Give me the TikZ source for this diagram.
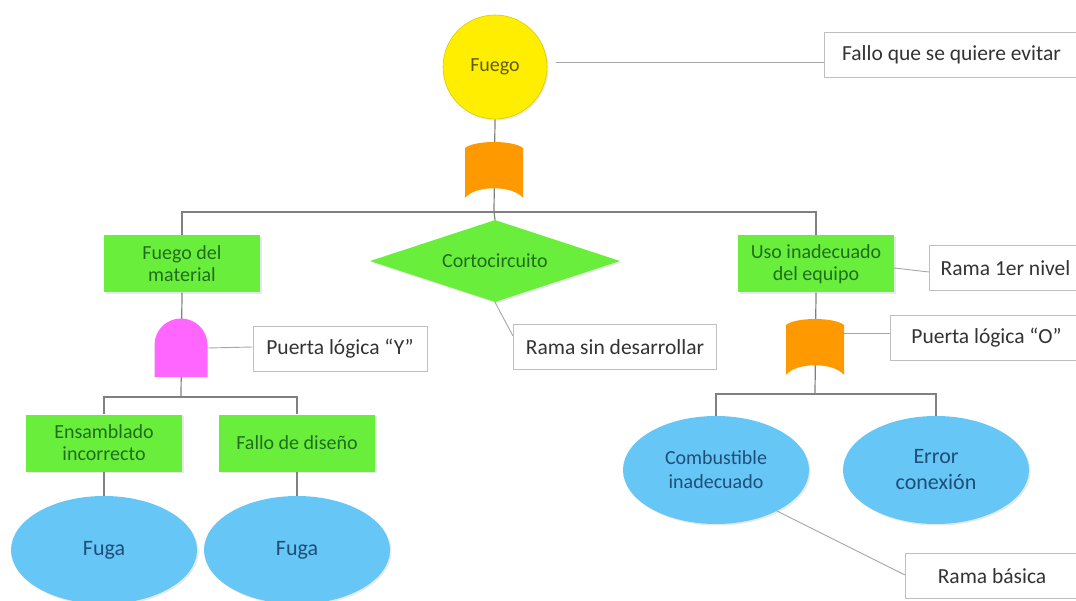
\documentclass[tikz,border=0pt]{standalone}
\usepackage{fontspec}
\setmainfont{Carlito}
\usetikzlibrary{shapes.geometric,backgrounds,shadows}
\definecolor{lineg}{HTML}{808080}
\definecolor{callg}{HTML}{A6A6A6}
\definecolor{boxg}{HTML}{BFBFBF}
\definecolor{grn}{HTML}{6AEE3C}
\definecolor{grntxt}{HTML}{1F6E1F}
\definecolor{blu}{HTML}{66C6F6}
\definecolor{blutxt}{HTML}{1F4E79}
\definecolor{yel}{HTML}{FFEE00}
\definecolor{yeltxt}{HTML}{5E5E10}
\definecolor{org}{HTML}{FF9900}
\definecolor{pnk}{HTML}{FF66FF}
\definecolor{lbltxt}{HTML}{333333}
\tikzset{
  sh/.style={drop shadow={opacity=0.18,shadow xshift=1.5pt,shadow yshift=-1.5pt}},
  greenbox/.style={rectangle,fill=grn,sh,text=grntxt,align=center,inner sep=0,
    minimum width=156,minimum height=57,font=\fontsize{20}{22}\selectfont},
  blueell/.style={ellipse,fill=blu,sh,text=blutxt,align=center,inner sep=0,
    minimum width=186,minimum height=108,font=\fontsize{20}{24}\selectfont},
  label/.style={rectangle,draw=boxg,line width=1pt,fill=white,text=lbltxt,inner sep=0,
    minimum height=45,font=\fontsize{21.5}{23}\selectfont},
  conn/.style={draw=lineg,line width=1.2pt},
  call/.style={draw=callg,line width=0.9pt},
  orgate/.pic={
    \fill[org] (-29,-22) .. controls (-19,-30) and (19,-30) .. (29,-22)
      -- (29,28) .. controls (19,15) and (-19,15) .. (-29,28) -- cycle;
    \node[inner sep=0,minimum width=58,minimum height=56] (-n) {};
  },
  andgate/.pic={
    \fill[pnk] (-26.5,29) -- (-26.5,-3) arc[start angle=180,end angle=360,radius=26.5]
      -- (26.5,29) -- cycle;
    \node[inner sep=0,minimum width=53,minimum height=58] (-n) {};
  }
}
\begin{document}
\begin{tikzpicture}[x=1pt,y=-1pt]
\useasboundingbox (0,0) rectangle (1076,601);
% main nodes
\node[circle,fill=yel,draw=yel!85!black,line width=0.6pt,sh,minimum size=104,inner sep=0,
  text=yeltxt,font=\fontsize{20}{22}\selectfont] (fuego) at (495,67) {Fuego};
\pic (g1) at (494,170) {orgate};
\node[greenbox] (fdm) at (182,264) {Fuego del\\material};
\node[diamond,fill=grn,sh,text=grntxt,inner sep=0,minimum width=250,minimum height=82,
  aspect=3,font=\fontsize{20}{22}\selectfont] (corto) at (495,261) {Cortocircuito};
\node[greenbox] (uso) at (816,264) {Uso inadecuado\\del equipo};
\pic (g2) at (181,348) {andgate};
\pic (g3) at (815,347) {orgate};
\node[greenbox] (ens) at (104,443) {Ensamblado\\incorrecto};
\node[greenbox] (fdd) at (297,443) {Fallo de diseño};
\node[blueell,font=\fontsize{22}{24}\selectfont] (fuga1) at (104,550) {Fuga};
\node[blueell,font=\fontsize{22}{24}\selectfont] (fuga2) at (297,550) {Fuga};
\node[blueell] (comb) at (716,470) {Combustible\\inadecuado};
\node[blueell,font=\fontsize{22}{26}\selectfont] (err) at (936,470) {Error\\conexión};
% labels
\node[label,minimum width=254,anchor=west] (l1) at (824,55) {Fallo que se quiere evitar};
\node[label,minimum width=152,anchor=west] (l2) at (929,268) {Rama 1er nivel};
\node[label,minimum width=203] (l3) at (615,347) {Rama sin desarrollar};
\node[label,minimum width=174] (l4) at (340,349) {Puerta lógica “Y”};
\node[label,minimum width=192,anchor=west] (l5) at (890,338) {Puerta lógica “O”};
\node[label,minimum width=173,anchor=west] (l6) at (905,576) {Rama básica};
% tree connectors
\coordinate (b1) at (494,212);
\coordinate (b2) at (181,397);
\coordinate (b3) at (815,394);
\begin{pgfonlayer}{background}
\draw[conn] (fuego.south) -- (b1);
\draw[conn] (fdm.north) |- (b1) -| (uso.north);
\draw[conn] (b1) -- (corto.north);
\draw[conn] (fdm.south) -- (b2);
\draw[conn] (ens.north) |- (b2) -| (fdd.north);
\draw[conn] (ens.south) -- (fuga1.north);
\draw[conn] (fdd.south) -- (fuga2.north);
\draw[conn] (uso.south) -- (b3);
\draw[conn] (comb.north) |- (b3) -| (err.north);
% callouts
\draw[call] ([xshift=9pt,yshift=5pt]fuego.east) -- ([yshift=-7pt]l1.west);
\draw[call] ([yshift=-4pt]uso.east) -- ([yshift=-4pt]l2.west);
\draw[call] (corto.south) -- ([yshift=-12pt]l3.north west);
\draw[call] (g2-n.east) -- ([yshift=2pt]l4.west);
\draw[call] ([yshift=14pt]g3-n.east) -- ([yshift=5pt]l5.west);
\draw[call] (comb.-34) -- ([yshift=1pt]l6.west);
\end{pgfonlayer}
\end{tikzpicture}
\end{document}
